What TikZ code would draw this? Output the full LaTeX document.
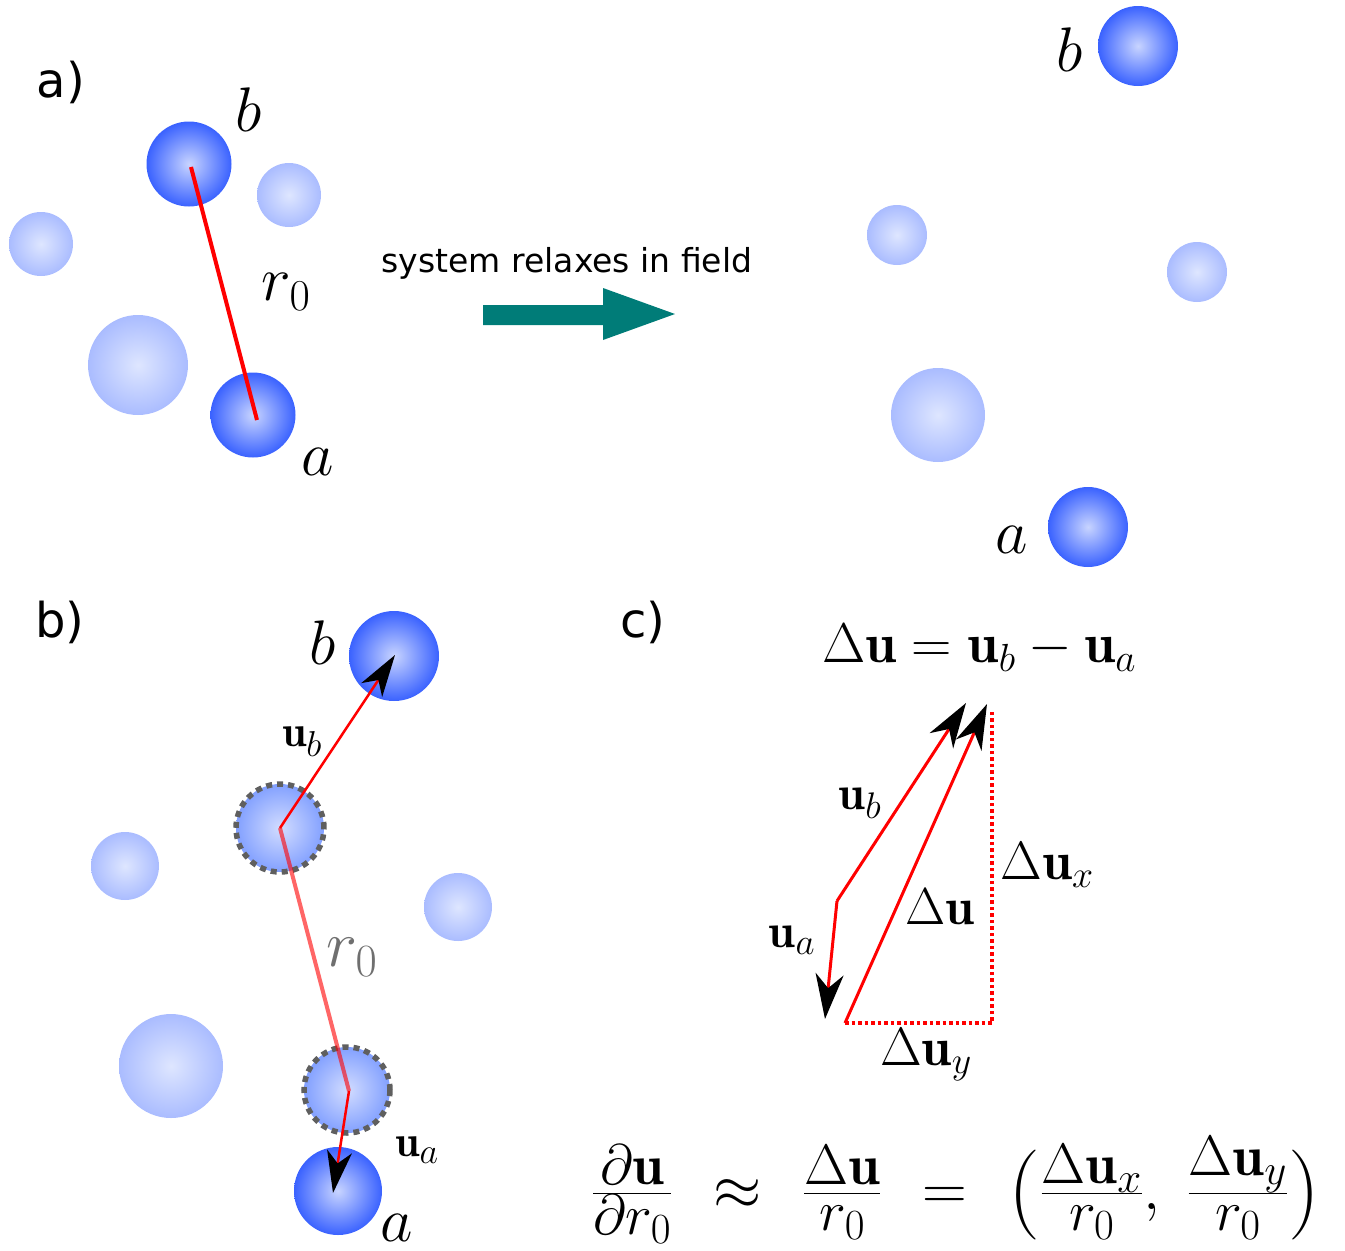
\RequirePackage{fix-cm}
\documentclass[tikz,border=0pt]{standalone}
\usepackage{amsmath}
\usepackage{fontspec}
\newfontfamily\dvs{DejaVu Sans}
\usetikzlibrary{arrows.meta}
\newcommand\fsz[1]{\fontsize{#1}{#1}\selectfont}
\DeclareMathSizes{44}{44}{36}{27}
\DeclareMathSizes{48}{48}{37}{28}
\DeclareMathSizes{62}{62}{57}{43}
\newcommand\bigparen[1]{\raisebox{-8pt}{\fsz{90}#1}}
\newcommand\wsp{\mskip7mu}
\definecolor{ballin}{RGB}{200,212,255}
\definecolor{ballout}{RGB}{58,98,255}
\definecolor{lightin}{RGB}{222,230,255}
\definecolor{lightout}{RGB}{170,188,255}
\definecolor{oldin}{RGB}{210,220,255}
\definecolor{oldout}{RGB}{130,160,255}
\definecolor{tealarrow}{RGB}{0,124,120}
\definecolor{dotgray}{RGB}{95,95,95}
\tikzset{
  darkball/.style={circle,inner sep=0pt,minimum size=#1,shading=radial,inner color=ballin,outer color=ballout},
  lightball/.style={circle,inner sep=0pt,minimum size=#1,shading=radial,inner color=lightin,outer color=lightout},
  oldball/.style={circle,inner sep=0pt,minimum size=#1,shading=radial,inner color=oldin,outer color=oldout,draw=dotgray,line width=5.5pt,dash pattern=on 6pt off 5pt},
  panel/.style={inner sep=0pt,font=\dvs\fsz{48}},
  mlab/.style={inner sep=0pt,font=\fsz{#1}},
  vec/.style={red,line width=3pt,-{Stealth[length=45pt,width=28pt,inset=14pt,color=black]}},
  vecb/.style={red,line width=2.5pt,-{Stealth[length=42pt,width=25pt,inset=12pt,color=black]}},
}
\begin{document}
\begin{tikzpicture}[x=1pt,y=-1pt]
\useasboundingbox (0,0) rectangle (1345,1251);
% ---------- panel a
\node[panel] (la) at (61,82) {a)};
\node[lightball=64] (l1) at (41,244) {};
\node[lightball=64] (l2) at (289,195) {};
\node[lightball=100] (l3) at (138,365) {};
\node[darkball=85] (bA) at (189,164) {};
\node[darkball=85] (aA) at (253,415) {};
\coordinate (bAc) at (191,167);
\coordinate (aAc) at (257,420);
\draw[red,line width=4pt] (bAc) -- (aAc);
\node[mlab=63] (tbA) at (249,110) {$b$};
\node[mlab=63] (trA) at (286,292) {$r_0$};
\node[mlab=63] (taA) at (318,462) {$a$};
% ---------- relax arrow
\node[inner sep=0pt,font=\dvs\fsz{33}] (relax) at (567,263) {system relaxes in field};
\fill[tealarrow] (483,305) -- (603,305) -- (603,288) -- (675,314) -- (603,340) -- (603,325) -- (483,325) -- cycle;
% ---------- relaxed system
\node[darkball=80] (bR) at (1138,46) {};
\node[darkball=80] (aR) at (1088,527) {};
\node[lightball=60] (r1) at (897,235) {};
\node[lightball=60] (r2) at (1197,272) {};
\node[lightball=94] (r3) at (938,415) {};
\node[mlab=63] (tbR) at (1070,50) {$b$};
\node[mlab=63] (taR) at (1012,540) {$a$};
% ---------- panel b
\node[panel] (lb) at (60,622) {b)};
\node[lightball=68] (m1) at (125,866) {};
\node[lightball=68] (m2) at (458,907) {};
\node[lightball=104] (m3) at (171,1066) {};
\node[darkball=90] (bB) at (394,656) {};
\node[darkball=88] (aB) at (338,1191) {};
\node[oldball=88] (ob) at (280,828) {};
\node[oldball=86] (oa) at (347,1090) {};
\coordinate (tipb) at (395,655);
\coordinate (tipa) at (333,1193);
\coordinate (oac) at (349,1091);
\draw[red,opacity=0.6,line width=4pt] (ob.center) -- (oac);
\draw[vecb] (ob.center) -- (tipb);
\draw[vecb] (oac) -- (tipa);
\node[mlab=63] (tbB) at (323,643) {$b$};
\node[mlab=44] (tubB) at (302,742) {$\mathbf{u}_b$};
\node[mlab=66,text=dotgray!90] (trB) at (352,957) {$r_0$};
\node[mlab=44] (tuaB) at (417,1150) {$\mathbf{u}_a$};
\node[mlab=63] (taB) at (397,1228) {$a$};
% ---------- panel c
\node[panel] (lc) at (643,622) {c)};
\node[mlab=56] (eq1) at (979,648) {$\Delta\mathbf{u}=\mathbf{u}_b-\mathbf{u}_a$};
\coordinate (bend) at (837,901);
\coordinate (ua) at (825,1019);
\coordinate (ub) at (966,703);
\coordinate (dstart) at (845,1023);
\coordinate (dtip) at (987,704);
\coordinate (corner) at (992,1023);
\coordinate (ctop) at (992,711);
\draw[vec] (bend) -- (ub);
\draw[vec] (bend) -- (ua);
\draw[vec] (dstart) -- (dtip);
\draw[red,line width=3.5pt,dash pattern=on 3.5pt off 3pt] (dstart) -- (corner) -- (ctop);
\node[mlab=48] (tubC) at (860,803) {$\mathbf{u}_b$};
\node[mlab=48] (tuaC) at (792,940) {$\mathbf{u}_a$};
\node[mlab=52] (tduC) at (940,907) {$\Delta\mathbf{u}$};
\node[mlab=54] (tdx) at (1047,865) {$\Delta\mathbf{u}_x$};
\node[mlab=54] (tdy) at (926,1055) {$\Delta\mathbf{u}_y$};
\node[mlab=62] (eq2) at (956,1190) {$\frac{\partial\mathbf{u}}{\partial r_0}\wsp\approx\wsp\frac{\Delta\mathbf{u}}{r_0}\wsp=\wsp\bigparen{(}\frac{\Delta\mathbf{u}_x}{r_0},\;\frac{\Delta\mathbf{u}_y}{r_0}\bigparen{)}$};
\end{tikzpicture}
\end{document}
